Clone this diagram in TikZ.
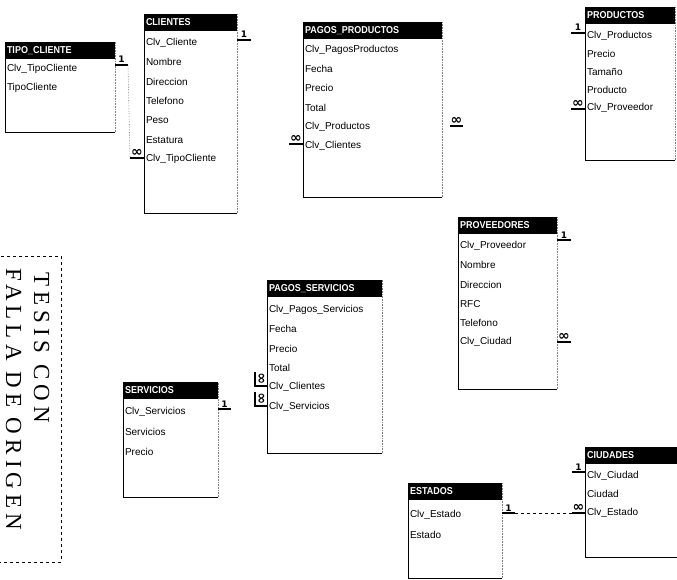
\documentclass[tikz,border=0pt]{standalone}
\usepackage{fontspec}
\setmainfont{Liberation Sans}
\newfontfamily\hdrfont[FakeStretch=0.9]{Liberation Sans}
\newfontfamily\symfont{DejaVu Sans}
\newfontfamily\stampfont[LetterSpace=22]{Liberation Serif}

\begin{document}
\begin{tikzpicture}[x=1pt, y=-1pt,
    every node/.style={inner sep=0pt, outer sep=0pt},
    tablebox/.style={anchor=north west},
    hdr/.style={fill=black, text=white, anchor=north west, align=left, minimum height=17pt, inner xsep=2pt, font=\hdrfont\bfseries\fontsize{10}{12}\selectfont},
    field/.style={anchor=west, font=\fontsize{10}{12}\selectfont},
    edge/.style={line width=0.9pt},
    faint/.style={gray, densely dotted, line width=0.6pt},
    stub/.style={line width=1.6pt},
    cardone/.style={font=\symfont\bfseries\fontsize{9}{9}\selectfont, inner sep=1pt},
    cardmany/.style={font=\symfont\bfseries\fontsize{14}{14}\selectfont, inner sep=0.5pt},
    stamptext/.style={rotate=-90, anchor=base west, font=\stampfont\fontsize{23}{23}\selectfont}]
    \useasboundingbox (0,0) rectangle (677,580);

    % Define tables
    \node[tablebox, minimum width=110pt, minimum height=90pt] (tipocliente) at (5,42) {};
    \node[tablebox, minimum width=93pt, minimum height=199pt] (clientes) at (144,14) {};
    \node[tablebox, minimum width=139pt, minimum height=175pt] (pagosproductos) at (303,22) {};
    \node[tablebox, minimum width=90pt, minimum height=153pt] (productos) at (585,7) {};
    \node[tablebox, minimum width=99pt, minimum height=172pt] (proveedores) at (458,217) {};
    \node[tablebox, minimum width=115pt, minimum height=173pt] (pagosservicios) at (267,280) {};
    \node[tablebox, minimum width=95pt, minimum height=115pt] (servicios) at (123,382) {};
    \node[tablebox, minimum width=92pt, minimum height=110pt] (ciudades) at (585,447) {};
    \node[tablebox, minimum width=94pt, minimum height=95pt] (estados) at (408,483) {};

    % Draw table borders
    \foreach \t in {tipocliente, clientes, pagosproductos, productos, proveedores, pagosservicios, servicios, ciudades, estados} {
        \draw[edge] (\t.north west) -- (\t.south west) -- (\t.south east);
        \draw[faint] (\t.south east) -- (\t.north east);
    }

    % Headers
    \node[hdr, text width=106pt] (tipoclientehdr) at (5,42) {TIPO\_CLIENTE};
    \node[hdr, text width=89pt] (clienteshdr) at (144,14) {CLIENTES};
    \node[hdr, text width=135pt] (pagosproductoshdr) at (303,22) {PAGOS\_PRODUCTOS};
    \node[hdr, text width=86pt] (productoshdr) at (585,7) {PRODUCTOS};
    \node[hdr, text width=95pt] (proveedoreshdr) at (458,217) {PROVEEDORES};
    \node[hdr, text width=111pt] (pagosservicioshdr) at (267,280) {PAGOS\_SERVICIOS};
    \node[hdr, text width=91pt] (servicioshdr) at (123,382) {SERVICIOS};
    \node[hdr, text width=88pt] (ciudadeshdr) at (585,447) {CIUDADES};
    \node[hdr, text width=90pt] (estadoshdr) at (408,483) {ESTADOS};

    % Fields
    \node[field] (tc1) at (7,69) {Clv\_TipoCliente};
    \node[field] (tc2) at (7,88) {TipoCliente};

    \node[field] (c1) at (146,43) {Clv\_Cliente};
    \node[field] (c2) at (146,62) {Nombre};
    \node[field] (c3) at (146,82) {Direccion};
    \node[field] (c4) at (146,101) {Telefono};
    \node[field] (c5) at (146,120) {Peso};
    \node[field] (c6) at (146,140) {Estatura};
    \node[field] (c7) at (146,159) {Clv\_TipoCliente};

    \node[field] (pp1) at (305,50) {Clv\_PagosProductos};
    \node[field] (pp2) at (305,69) {Fecha};
    \node[field] (pp3) at (305,88) {Precio};
    \node[field] (pp4) at (305,108) {Total};
    \node[field] (pp5) at (305,127) {Clv\_Productos};
    \node[field] (pp6) at (305,146) {Clv\_Clientes};

    \node[field] (pr1) at (587,36) {Clv\_Productos};
    \node[field] (pr2) at (587,54) {Precio};
    \node[field] (pr3) at (587,72) {Tamaño};
    \node[field] (pr4) at (587,90) {Producto};
    \node[field] (pr5) at (587,108) {Clv\_Proveedor};

    \node[field] (pv1) at (460,246) {Clv\_Proveedor};
    \node[field] (pv2) at (460,265) {Nombre};
    \node[field] (pv3) at (460,285) {Direccion};
    \node[field] (pv4) at (460,304) {RFC};
    \node[field] (pv5) at (460,323) {Telefono};
    \node[field] (pv6) at (460,342) {Clv\_Ciudad};

    \node[field] (ps1) at (269,310) {Clv\_Pagos\_Servicios};
    \node[field] (ps2) at (269,329) {Fecha};
    \node[field] (ps3) at (269,349) {Precio};
    \node[field] (ps4) at (269,368) {Total};
    \node[field] (ps5) at (269,387) {Clv\_Clientes};
    \node[field] (ps6) at (269,407) {Clv\_Servicios};

    \node[field] (sv1) at (125,412) {Clv\_Servicios};
    \node[field] (sv2) at (125,432) {Servicios};
    \node[field] (sv3) at (125,452) {Precio};

    \node[field] (ci1) at (587,476) {Clv\_Ciudad};
    \node[field] (ci2) at (587,494) {Ciudad};
    \node[field] (ci3) at (587,513) {Clv\_Estado};

    \node[field] (es1) at (410,515) {Clv\_Estado};
    \node[field] (es2) at (410,535) {Estado};

    % Relationship ends
    \draw[stub] ([yshift=4pt]tc1.west -| tipocliente.east) -- ++(13,0) node[midway, above=1pt, cardone] (tcone) {1} coordinate (tcend);
    \draw[stub] ([yshift=1pt]c7.west -| clientes.west) -- ++(-14,0) node[midway, above=1pt, cardmany] (cmany) {∞} coordinate (cend);
    \draw[faint] (tcend) -- (cend);
    \draw[stub] ([yshift=3pt]c1.west -| clientes.east) -- ++(14,0) node[midway, above=1pt, cardone] (cone) {1};
    \draw[stub] ([yshift=2pt]pp6.west -| pagosproductos.west) -- ++(-14,0) node[midway, above=1pt, cardmany] (ppmany6) {∞};
    \draw[stub] ([xshift=8pt, yshift=1pt]pp5.west -| pagosproductos.east) -- ++(13,0) node[midway, above=1pt, cardmany] (ppmany5) {∞};
    \draw[stub] ([yshift=3pt]pr1.west -| productos.west) -- ++(-14,0) node[midway, above=1pt, cardone] (prone) {1};
    \draw[stub] ([yshift=-1pt]pr5.west -| productos.west) -- ++(-14,0) node[midway, above=1pt, cardmany] (prmany) {∞};
    \draw[stub] ([yshift=6pt]pv1.west -| proveedores.east) -- ++(14,0) node[midway, above=1pt, cardone] (pvone) {1};
    \draw[stub] (pv6.west -| proveedores.east) -- ++(14,0) node[midway, above=1pt, cardmany] (pvmany) {∞};
    \draw[stub] ([yshift=1pt]ps5.west -| pagosservicios.west) -- ++(-12,0) -- ++(0,-14);
    \node[cardmany, rotate=90] (psmany5) at ([xshift=-5pt, yshift=8pt]ps5.west -| pagosservicios.west) {∞};
    \draw[stub] ([yshift=1pt]ps6.west -| pagosservicios.west) -- ++(-12,0) -- ++(0,-14);
    \node[cardmany, rotate=90] (psmany6) at ([xshift=-5pt, yshift=8pt]ps6.west -| pagosservicios.west) {∞};
    \draw[stub] ([yshift=3pt]sv1.west -| servicios.east) -- ++(13,0) node[midway, above=1pt, cardone] (svone) {1};
    \draw[stub] ([yshift=4pt]ci1.west -| ciudades.west) -- ++(-13,0) node[midway, above=1pt, cardone] (cione) {1};
    \draw[stub] (ci3.west -| ciudades.west) -- ++(-13,0) node[midway, above=1pt, cardmany] (cimany) {∞} coordinate (ciend);
    \draw[stub] ([yshift=2pt]es1.west -| estados.east) -- ++(13,0) node[midway, above=1pt, cardone] (esone) {1} coordinate (esend);
    \draw[dashed, line width=0.6pt] (esend) -- (ciend);

    % Stamp
    \node[draw, dashed, line width=0.8pt, anchor=north west, minimum width=63pt, minimum height=306pt] (stamp) at (-2,256) {};
    \node[stamptext] (tesis) at (34,272) {TESIS CON};
    \node[stamptext] (falla) at (6,268) {FALLA DE ORIGEN};
\end{tikzpicture}
\end{document}
